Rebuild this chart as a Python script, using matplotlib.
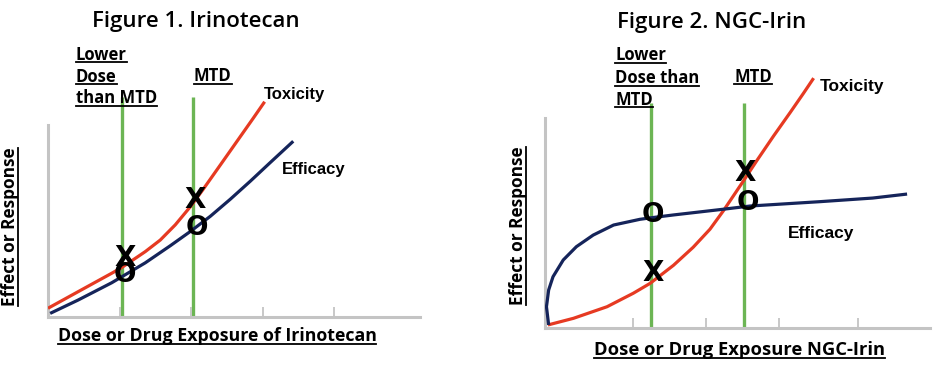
import numpy as np
import matplotlib
matplotlib.use("Agg")
import matplotlib.pyplot as plt
from matplotlib.lines import Line2D

# ---- Figure 1 (Irinotecan) : schematic curves ----
irin_tox_x = [0.00, 0.42, 0.89, 1.03, 1.36, 1.57, 1.78, 1.99, 2.17, 2.41, 2.64, 2.87, 3.03]
irin_tox_y = [0.46, 1.33, 2.30, 2.60, 3.44, 4.05, 4.85, 5.80, 6.72, 8.00, 9.23, 10.46, 11.33]
irin_eff_x = [0.03, 0.42, 0.89, 1.36, 1.71, 1.99, 2.27, 2.55, 2.83, 3.10, 3.43]
irin_eff_y = [0.19, 0.89, 1.80, 2.85, 3.75, 4.50, 5.30, 6.20, 7.15, 8.10, 9.25]
irin_doses = [1.03, 2.03]            # lower dose, MTD
irin_ticks = [1, 2, 3, 4]
irin_x_marks = [(1.08, 3.1), (2.06, 6.16)]
irin_o_marks = [(1.08, 2.21), (2.08, 4.68)]

# ---- Figure 2 (NGC-Irin) ----
ngc_tox_x = [0.04, 0.39, 0.85, 1.21, 1.44, 1.76, 2.03, 2.26, 2.44, 2.58, 2.72, 2.90, 3.13, 3.36, 3.54, 3.68]
ngc_tox_y = [0.16, 0.51, 1.12, 1.83, 2.35, 3.30, 4.25, 5.20, 6.15, 6.95, 7.75, 8.80, 10.10, 11.35, 12.35, 13.15]
ngc_eff_x = [0.05, 0.02, 0.05, 0.11, 0.25, 0.43, 0.66, 0.94, 1.30, 1.45, 1.76, 2.44, 2.81, 3.77, 4.49, 4.96]
ngc_eff_y = [0.16, 1.12, 2.00, 2.70, 3.58, 4.28, 4.89, 5.42, 5.72, 5.80, 5.95, 6.25, 6.42, 6.65, 6.84, 7.05]
ngc_doses = [1.45, 2.73]
ngc_ticks = [1.21, 2.21, 3.21, 4.29]
ngc_x_marks = [(1.48, 2.89), (2.74, 8.16)]
ngc_o_marks = [(1.48, 5.95), (2.78, 6.58)]

red = "#e63a22"
navy = "#15245a"
green = "#6cb554"
grey = "#c4c4c4"
title_font = ["Open Sans", "DejaVu Sans"]
label_font = ["Open Sans", "DejaVu Sans"]
arial = ["Liberation Sans", "DejaVu Sans"]

W, H = 934, 369
fig = plt.figure(figsize=(W / 100, H / 100), dpi=100)
underlined = []

def px(x, y):
  return x / W, 1 - y / H

def make_axes(left, right, bottom, unit_x, unit_y, spine_top, ticks):
  ax = fig.add_axes([left / W, 1 - bottom / H, (right - left) / W, bottom / H])
  ax.set_xlim(0, (right - left) / unit_x)
  ax.set_ylim(0, bottom / unit_y)
  ax.patch.set_alpha(0)
  for s in ["top", "right"]:
    ax.spines[s].set_visible(False)
  for s in ["left", "bottom"]:
    ax.spines[s].set_color(grey)
    ax.spines[s].set_linewidth(2.2)
  ax.spines["left"].set_bounds(0, spine_top)
  ax.set_xticks(ticks)
  ax.set_xticklabels([])
  ax.set_yticks([])
  ax.tick_params(axis="x", direction="in", length=7, width=1.3, color=grey)
  return ax

def draw_panel(ax, tox_x, tox_y, eff_x, eff_y, doses, dose_top, x_marks, o_marks):
  ax.vlines(doses, 0, dose_top, colors=green, linewidth=2.4, zorder=1)
  ax.plot(tox_x, tox_y, color=red, linewidth=2.3, solid_capstyle="butt", solid_joinstyle="round", zorder=3)
  ax.plot(eff_x, eff_y, color=navy, linewidth=2.3, solid_capstyle="butt", solid_joinstyle="round", zorder=3)
  for x, y in x_marks:
    ax.text(x, y, "X", family=["DejaVu Sans"], fontweight="bold", fontsize=20, ha="center", va="center", zorder=5)
  for x, y in o_marks:
    ax.text(x, y, "O", family=["DejaVu Sans"], fontweight="bold", fontsize=19, ha="center", va="center", zorder=5)

def ulabel(ax, x, y, s, size=12):
  t = ax.text(x, y, s, family=label_font, fontweight="bold", fontsize=size, ha="left", va="baseline")
  underlined.append(t)

# ---- left panel ----
ax1 = make_axes(48, 420, 317, 71.5, 19, 10.1, irin_ticks)
draw_panel(ax1, irin_tox_x, irin_tox_y, irin_eff_x, irin_eff_y, irin_doses, 11.6,
           irin_x_marks, irin_o_marks)
ulabel(ax1, 0.39, 13.53, "Lower")
ulabel(ax1, 0.39, 12.37, "Dose")
ulabel(ax1, 0.39, 11.26, "than MTD")
ulabel(ax1, 2.04, 12.42, "MTD")
ax1.text(3.02, 11.47, "Toxicity", family=arial, fontweight="bold", fontsize=12, va="baseline")
ax1.text(3.27, 7.53, "Efficacy", family=arial, fontweight="bold", fontsize=12, va="baseline")

# ---- right panel ----
ax2 = make_axes(545, 930, 328, 73, 19, 11.05, ngc_ticks)
draw_panel(ax2, ngc_tox_x, ngc_tox_y, ngc_eff_x, ngc_eff_y, ngc_doses, 11.84,
           ngc_x_marks, ngc_o_marks)
ulabel(ax2, 0.96, 14.1, "Lower")
ulabel(ax2, 0.96, 12.89, "Dose than")
ulabel(ax2, 0.96, 11.74, "MTD")
ulabel(ax2, 2.59, 12.95, "MTD")
ax2.text(3.77, 12.47, "Toxicity", family=arial, fontweight="bold", fontsize=12.5, va="baseline")
ax2.text(3.33, 4.74, "Efficacy", family=arial, fontweight="bold", fontsize=12.5, va="baseline")

# ---- titles and axis labels ----
fig.text(*px(196, 27), "Figure 1. Irinotecan", family=title_font, fontweight="semibold", fontsize=16,
         ha="center", va="baseline")
fig.text(*px(712, 28), "Figure 2. NGC-Irin", family=title_font, fontweight="semibold", fontsize=16,
         ha="center", va="baseline")
for x, y, s, size in [(217, 341, "Dose or Drug Exposure of Irinotecan", 12.8),
                      (739, 355, "Dose or Drug Exposure NGC-Irin", 13.2)]:
  underlined.append(fig.text(*px(x, y), s, family=label_font, fontweight="bold", fontsize=size,
                             ha="center", va="baseline"))
for x, y in [(15, 227), (523, 226)]:
  underlined.append(fig.text(*px(x, y), "Effect or Response", family=label_font, fontweight="bold",
                             fontsize=12.4, rotation=90, rotation_mode="anchor", ha="center", va="baseline"))

# underline the labels (matplotlib has no underline text style)
fig.canvas.draw()
renderer = fig.canvas.get_renderer()
inv = fig.transFigure.inverted()
for t in underlined:
  bb = t.get_window_extent(renderer)
  bx, by = t.get_transform().transform(t.get_position())
  if t.get_rotation() == 90:
    pts = [(bx + 2.5, bb.y0), (bx + 2.5, bb.y1)]
  else:
    pts = [(bb.x0, by - 2.5), (bb.x1, by - 2.5)]
  (x0, y0), (x1, y1) = inv.transform(pts)
  fig.add_artist(Line2D([x0, x1], [y0, y1], transform=fig.transFigure, color="black", linewidth=1.3))

fig.savefig("out.png", dpi=100, facecolor="white")
